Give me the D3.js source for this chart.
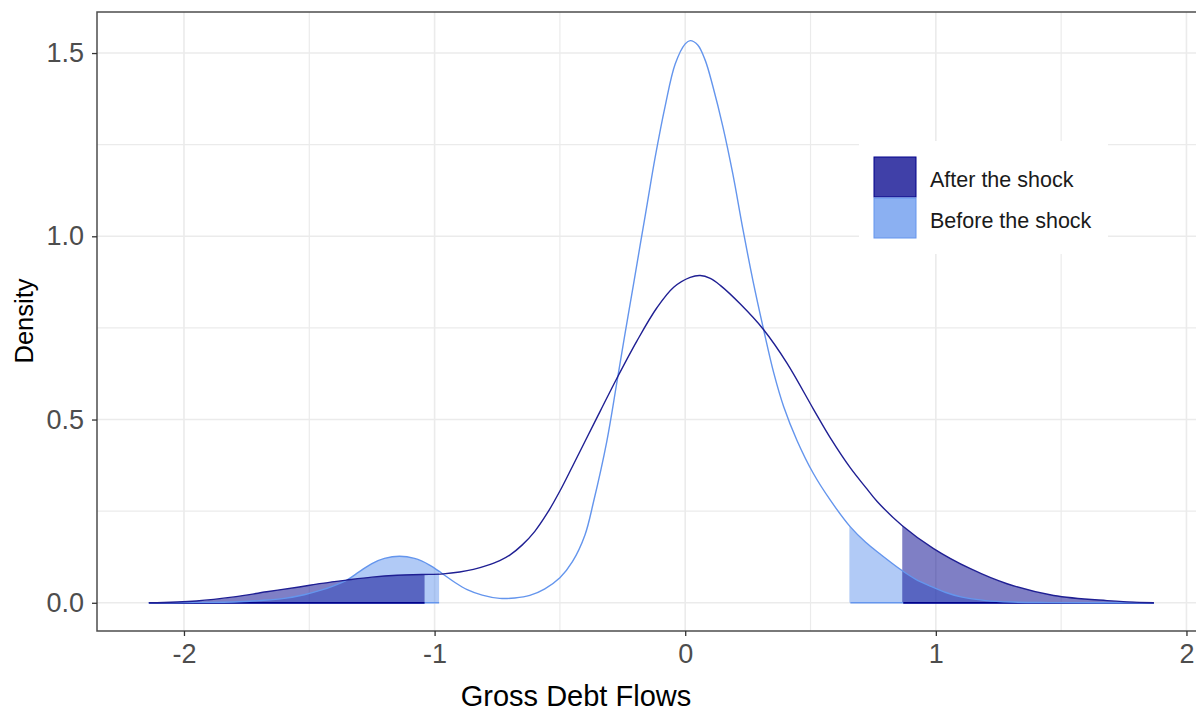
<!DOCTYPE html>
<html>
<head>
<meta charset="utf-8">
<script src="https://cdn.jsdelivr.net/npm/d3@7"></script>
<style>
  html, body { margin: 0; padding: 0; background: #fff; }
  svg { display: block; }
  text { font-family: "Liberation Sans", Arial, sans-serif; }
</style>
</head>
<body>
<div id="chart"></div>
<script>
// Density of gross debt flows, before the shock
const beforeX = [-2.14, -1.95, -1.80, -1.70, -1.60, -1.52, -1.45, -1.40, -1.35, -1.30, -1.25, -1.20, -1.14,
  -1.08, -1.02, -0.97, -0.92, -0.87, -0.81, -0.74, -0.68, -0.62, -0.56, -0.50, -0.45, -0.40, -0.366,
  -0.313, -0.273, -0.24, -0.206, -0.18, -0.15, -0.12, -0.08, -0.04, 0.0, 0.02, 0.05, 0.08, 0.11, 0.15,
  0.19, 0.23, 0.27, 0.313, 0.353, 0.393, 0.446, 0.512, 0.579, 0.659, 0.72, 0.778, 0.865, 0.92, 0.98,
  1.04, 1.10, 1.20, 1.30, 1.45, 1.87];
const beforeY = [0, 0.001, 0.002, 0.006, 0.012, 0.022, 0.035, 0.047, 0.062, 0.085, 0.107, 0.121, 0.127,
  0.121, 0.103, 0.080, 0.056, 0.036, 0.021, 0.012, 0.013, 0.020, 0.038, 0.068, 0.112, 0.185, 0.275,
  0.44, 0.60, 0.735, 0.87, 0.975, 1.095, 1.215, 1.355, 1.47, 1.525, 1.534, 1.522, 1.48, 1.41, 1.30,
  1.17, 1.02, 0.88, 0.745, 0.628, 0.535, 0.443, 0.352, 0.28, 0.207, 0.165, 0.133, 0.088, 0.064, 0.045,
  0.028, 0.016, 0.006, 0.002, 0.0005, 0];

// Density after the shock
const afterX = [-2.14, -1.95, -1.80, -1.67, -1.54, -1.45, -1.35, -1.25, -1.15, -1.05, -0.965, -0.90,
  -0.845, -0.79, -0.74, -0.70, -0.65, -0.60, -0.55, -0.50, -0.45, -0.40, -0.339, -0.273, -0.193, -0.113,
  -0.046, 0.02, 0.06, 0.10, 0.14, 0.22, 0.313, 0.406, 0.512, 0.579, 0.659, 0.72, 0.765, 0.865, 0.991, 1.138,
  1.284, 1.47, 1.683, 1.87];
const afterY = [0, 0.005, 0.016, 0.030, 0.043, 0.053, 0.062, 0.070, 0.075, 0.077, 0.079, 0.084,
  0.091, 0.102, 0.115, 0.13, 0.158, 0.195, 0.245, 0.305, 0.372, 0.44, 0.523, 0.612, 0.714, 0.805,
  0.861, 0.888, 0.893, 0.885, 0.866, 0.815, 0.745, 0.654, 0.528, 0.45, 0.368, 0.315, 0.277, 0.211, 0.148, 0.093,
  0.052, 0.02, 0.006, 0];

// tail cut-offs shaded under each curve
const beforeTails = [-0.982, 0.659];
const afterTails = [-1.04, 0.87];

const xTicks = [-2, -1, 0, 1, 2];
const xMinor = [-1.5, -0.5, 0.5, 1.5];
const yTicks = [0, 0.5, 1.0, 1.5];
const yMinor = [0.25, 0.75, 1.25];

const seriesNames = ["After the shock", "Before the shock"];
const seriesColors = ["#00008B", "#6495ED"];

const W = 1196, H = 711;
const panel = { left: 97, right: 1204, top: 12, bottom: 631 };

const x = d3.scaleLinear().domain([-2.347, 2.07]).range([panel.left, panel.right]);
const y = d3.scaleLinear().domain([-0.077, 1.612]).range([panel.bottom, panel.top]);

const svg = d3.select("#chart").append("svg")
  .attr("width", W)
  .attr("height", H);

const defs = svg.append("defs");
defs.append("clipPath").attr("id", "panel-clip")
  .append("rect")
  .attr("x", panel.left).attr("y", panel.top)
  .attr("width", panel.right - panel.left).attr("height", panel.bottom - panel.top);

const plot = svg.append("g").attr("clip-path", "url(#panel-clip)");

// grid
plot.selectAll(".xminor").data(xMinor).join("line")
  .attr("x1", d => x(d)).attr("x2", d => x(d))
  .attr("y1", panel.top).attr("y2", panel.bottom)
  .attr("stroke", "#ebebeb").attr("stroke-width", 1.2);
plot.selectAll(".yminor").data(yMinor).join("line")
  .attr("y1", d => y(d)).attr("y2", d => y(d))
  .attr("x1", panel.left).attr("x2", panel.right)
  .attr("stroke", "#ebebeb").attr("stroke-width", 1.2);
plot.selectAll(".xmajor").data(xTicks).join("line")
  .attr("x1", d => x(d)).attr("x2", d => x(d))
  .attr("y1", panel.top).attr("y2", panel.bottom)
  .attr("stroke", "#ebebeb").attr("stroke-width", 1.6);
plot.selectAll(".ymajor").data(yTicks).join("line")
  .attr("y1", d => y(d)).attr("y2", d => y(d))
  .attr("x1", panel.left).attr("x2", panel.right)
  .attr("stroke", "#ebebeb").attr("stroke-width", 1.6);

const before = beforeX.map((v, i) => [v, beforeY[i]]);
const after = afterX.map((v, i) => [v, afterY[i]]);

const curve = d3.curveCatmullRom.alpha(0.5);
const area = d3.area()
  .x(d => x(d[0])).y0(y(0)).y1(d => y(d[1]))
  .curve(curve);
const line = d3.line()
  .x(d => x(d[0])).y(d => y(d[1]))
  .curve(curve);

// clip rects for the tails
function tailClips(id, data, cuts) {
  const lo = data[0][0], hi = data[data.length - 1][0];
  const spans = [[lo, cuts[0]], [cuts[1], hi]];
  spans.forEach((s, i) => {
    defs.append("clipPath").attr("id", id + i)
      .append("rect")
      .attr("x", x(s[0]) - 1).attr("y", panel.top)
      .attr("width", x(s[1]) - x(s[0]) + 1).attr("height", y(0) - panel.top);
  });
  return spans;
}

const beforeSpans = tailClips("bclip", before, beforeTails);
const afterSpans = tailClips("aclip", after, afterTails);

// shaded tails: before first, then after on top
[0, 1].forEach(i => {
  plot.append("path").datum(before)
    .attr("clip-path", `url(#bclip${i})`)
    .attr("d", area)
    .attr("fill", seriesColors[1]).attr("fill-opacity", 0.5);
});
[0, 1].forEach(i => {
  plot.append("path").datum(after)
    .attr("clip-path", `url(#aclip${i})`)
    .attr("d", area)
    .attr("fill", seriesColors[0]).attr("fill-opacity", 0.5);
});

// lower outlines of the shaded tails
beforeSpans.forEach(s => {
  plot.append("line")
    .attr("x1", x(s[0])).attr("x2", x(s[1]))
    .attr("y1", y(0)).attr("y2", y(0))
    .attr("stroke", seriesColors[1]).attr("stroke-width", 1.6);
});
afterSpans.forEach(s => {
  plot.append("line")
    .attr("x1", x(s[0])).attr("x2", x(s[1]))
    .attr("y1", y(0)).attr("y2", y(0))
    .attr("stroke", seriesColors[0]).attr("stroke-width", 1.8);
});

// density curves
plot.append("path").datum(before)
  .attr("d", line).attr("fill", "none")
  .attr("stroke", seriesColors[1]).attr("stroke-width", 1.4);
plot.append("path").datum(after)
  .attr("d", line).attr("fill", "none")
  .attr("stroke", "#1f1f93").attr("stroke-width", 1.4);

// panel border (right side lies outside the picture)
svg.append("rect")
  .attr("x", panel.left).attr("y", panel.top)
  .attr("width", panel.right - panel.left).attr("height", panel.bottom - panel.top)
  .attr("fill", "none").attr("stroke", "#4d4d4d").attr("stroke-width", 1.5);

// axes
const xAxis = svg.append("g")
  .attr("transform", `translate(0,${panel.bottom})`)
  .call(d3.axisBottom(x).tickValues(xTicks).tickFormat(d3.format("d")).tickSize(5).tickPadding(8));
const yAxis = svg.append("g")
  .attr("transform", `translate(${panel.left},0)`)
  .call(d3.axisLeft(y).tickValues(yTicks).tickFormat(d3.format(".1f")).tickSize(5).tickPadding(8));

[xAxis, yAxis].forEach(g => {
  g.select(".domain").remove();
  g.selectAll(".tick line").attr("stroke", "#333").attr("stroke-width", 1.3);
  g.selectAll(".tick text")
    .attr("fill", "#4d4d4d")
    .style("font-size", "27px")
    .style("font-family", "'Liberation Sans', Arial, sans-serif");
});
xAxis.selectAll(".tick text").text(d => d < 0 ? "-" + Math.abs(d) : d);

// axis titles
svg.append("text")
  .attr("x", 576).attr("y", 706)
  .attr("text-anchor", "middle")
  .attr("fill", "#000")
  .style("font-size", "29px")
  .text("Gross Debt Flows");

svg.append("text")
  .attr("transform", "translate(32.5,321) rotate(-90)")
  .attr("text-anchor", "middle")
  .attr("fill", "#000")
  .style("font-size", "25.5px")
  .text("Density");

// legend
const legend = svg.append("g");
legend.append("rect")
  .attr("x", 859).attr("y", 141).attr("width", 249).attr("height", 113)
  .attr("fill", "#fff");
seriesNames.forEach((name, i) => {
  const ky = 157 + i * 41;
  legend.append("rect")
    .attr("x", 874).attr("y", ky).attr("width", 42).attr("height", 40)
    .attr("fill", seriesColors[i]).attr("fill-opacity", 0.75)
    .attr("stroke", seriesColors[i]).attr("stroke-width", 1);
  legend.append("text")
    .attr("x", 930).attr("y", ky + 22)
    .attr("dy", "0.35em")
    .attr("fill", "#1a1a1a")
    .style("font-size", "21.5px")
    .text(name);
});
</script>
</body>
</html>
